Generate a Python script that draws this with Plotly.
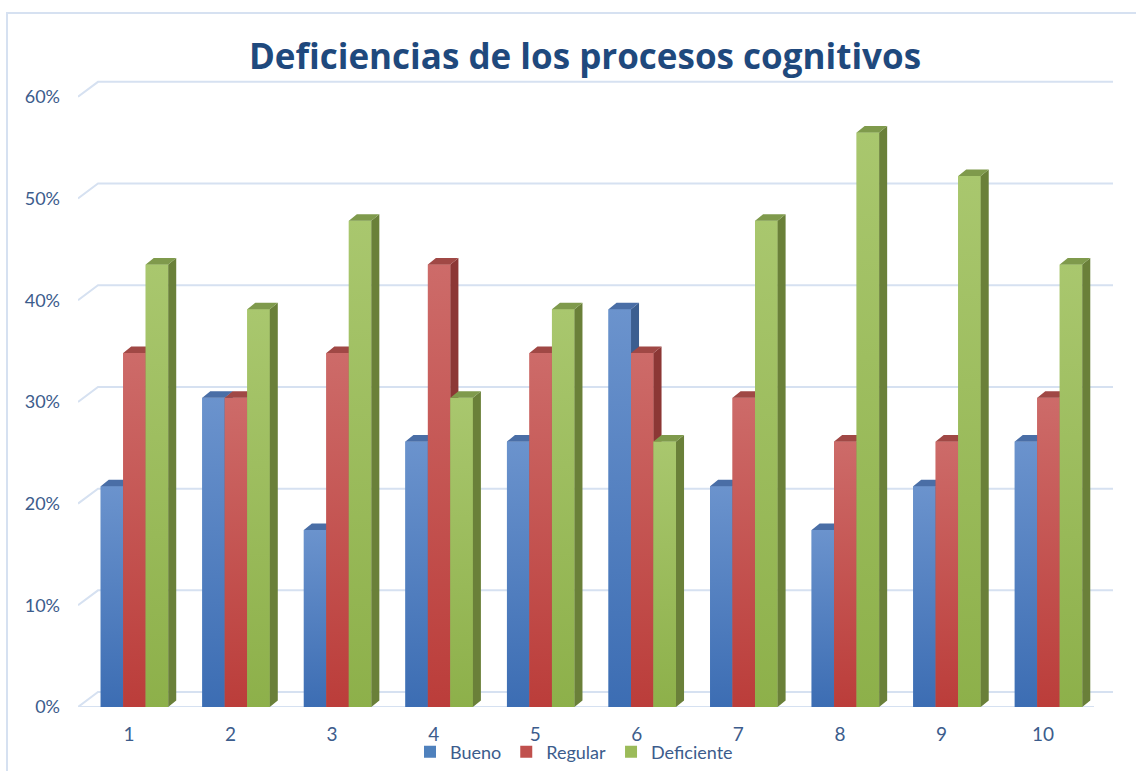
import plotly.graph_objects as go

# ---- data (percent) ----
categories = [1, 2, 3, 4, 5, 6, 7, 8, 9, 10]
bueno = [21.7, 30.4, 17.4, 26.1, 26.1, 39.1, 21.7, 17.4, 21.7, 26.1]
regular = [34.8, 30.4, 34.8, 43.5, 34.8, 34.8, 30.4, 26.1, 26.1, 30.4]
deficiente = [43.5, 39.1, 47.8, 30.4, 39.1, 26.1, 47.8, 56.5, 52.2, 43.5]
series_names = ["Bueno", "Regular", "Deficiente"]
y_ticks = [0, 10, 20, 30, 40, 50, 60]
title_text = "Deficiencias de los procesos cognitivos"

# ---- styling ----
front_mid = ["#4F81BD", "#C0504D", "#9BBB59"]
front_top = ["#6B93CD", "#CD6B69", "#A9C76E"]
front_bot = ["#3C6DB3", "#BB3D3A", "#8DB04A"]
side_col = ["#3B5E90", "#8C3735", "#6A8039"]
top_col = ["#4A6EA6", "#A04845", "#7F9A4C"]
grid_col = "#D6E1F1"
text_col = "#3C5C8C"
title_col = "#1F497D"

FIG_W, FIG_H = 1136, 771
M_L, M_R, M_T = 78, 23, 79
AXIS_BOTTOM_PX = 707           # pixel row of the 0% baseline
PLOT_H = FIG_H - M_T
Y_DOMAIN0 = (FIG_H - AXIS_BOTTOM_PX) / PLOT_H

def py(px):  # figure pixel row -> paper y
    return (FIG_H - px) / PLOT_H

def pxx(px):  # figure pixel column -> paper x
    return (px - M_L) / (FIG_W - M_L - M_R)

X_MIN, X_MAX = 0.444, 10.635
Y_MAX = 61.75
W = 0.2215          # bar width (x units)
DX, DY = 0.079, 0.64   # bar depth
GDX, GDY = 0.197, 1.47  # wall depth
FLOOR_END = 10.448

fig = go.Figure()

# walls / gridlines
for t in y_ticks:
    if t == 0:
        xs = [FLOOR_END, X_MIN, X_MIN + GDX, X_MAX]
        ys = [0, 0, GDY, GDY]
    else:
        xs = [X_MIN, X_MIN + GDX, X_MAX]
        ys = [t, t + GDY, t + GDY]
    fig.add_trace(go.Scatter(x=xs, y=ys, mode="lines", line=dict(color=grid_col, width=2),
                             hoverinfo="skip", showlegend=False, zorder=-10, cliponaxis=False))

all_series = [bueno, regular, deficiente]
for s, (name, vals) in enumerate(zip(series_names, all_series)):
    xc = [c + (s - 1) * W for c in categories]
    fig.add_trace(go.Bar(x=xc, y=vals, width=W, name=name,
                         marker=dict(color=front_mid[s], line=dict(width=0)),
                         zorder=2 * s, hoverinfo="x+y"))
    sx, sy, tx, ty = [], [], [], []
    for x0, h in zip(xc, vals):
        xl, xr = x0 - W / 2, x0 + W / 2
        # gradient front overlay
        fig.add_trace(go.Scatter(x=[xl, xr, xr, xl, xl], y=[0, 0, h, h, 0], mode="none",
                                 fill="toself",
                                 fillgradient=dict(type="vertical",
                                                   colorscale=[[0, front_bot[s]], [1, front_top[s]]]),
                                 hoverinfo="skip", showlegend=False, zorder=2 * s + 1))
        sx += [xr, xr + DX, xr + DX, xr, xr, None]
        sy += [0, DY, h + DY, h, 0, None]
        tx += [xl, xr, xr + DX, xl + DX, xl, None]
        ty += [h, h, h + DY, h + DY, h, None]
    fig.add_trace(go.Scatter(x=sx, y=sy, mode="none", fill="toself", fillcolor=side_col[s],
                             hoverinfo="skip", showlegend=False, zorder=2 * s + 1))
    fig.add_trace(go.Scatter(x=tx, y=ty, mode="none", fill="toself", fillcolor=top_col[s],
                             hoverinfo="skip", showlegend=False, zorder=2 * s + 1))

fig.update_layout(
    width=FIG_W, height=FIG_H,
    margin=dict(l=M_L, r=M_R, t=M_T, b=0),
    paper_bgcolor="white", plot_bgcolor="white",
    barmode="overlay",
    title=dict(text="<b>" + title_text + "</b>", x=585 / FIG_W, xanchor="center",
               y=1 - 57 / FIG_H, yanchor="middle",
               font=dict(family="Open Sans", size=35, color=title_col)),
    xaxis=dict(range=[X_MIN, X_MAX], showgrid=False, zeroline=False, showline=False,
               tickmode="array", tickvals=[c - 0.054 for c in categories],
               ticktext=[str(c) for c in categories], ticks="",
               ticklabelstandoff=14, automargin=False,
               tickfont=dict(family="Lato", size=19, color=text_col)),
    yaxis=dict(range=[0, Y_MAX], domain=[Y_DOMAIN0, 1], showgrid=False, zeroline=False,
               showline=False, tickmode="array", tickvals=y_ticks,
               ticktext=[f"{t}%" for t in y_ticks],
               ticks="", ticklabelstandoff=17, automargin=False,
               tickfont=dict(family="Lato", size=18, color=text_col)),
    legend=dict(orientation="h", x=pxx(574), xanchor="center",
                y=py(752), yanchor="middle",
                font=dict(family="Lato", size=18, color=text_col),
                itemwidth=30, bgcolor="rgba(0,0,0,0)", tracegroupgap=0),
    shapes=[dict(type="rect", xref="paper", yref="paper",
                 x0=pxx(7), x1=1.2, y0=-0.3, y1=py(13),
                 line=dict(color=grid_col, width=2), fillcolor="rgba(0,0,0,0)", layer="below")],
)

fig.write_html("out.html", config={"displayModeBar": False},
               post_script="document.body.style.margin='0px';")
